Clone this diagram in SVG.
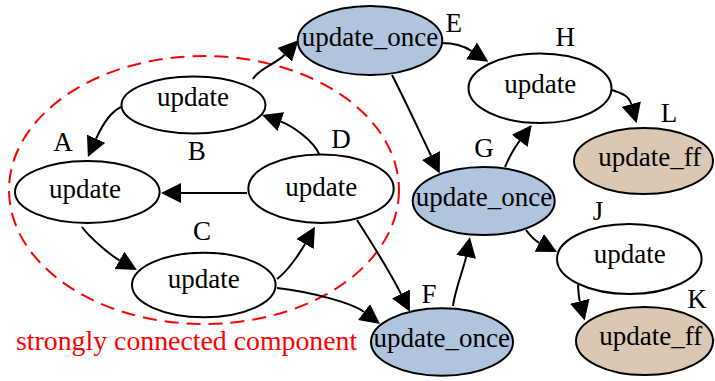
<svg xmlns="http://www.w3.org/2000/svg" width="715" height="381" viewBox="0 0 715 381">
<defs>
<style>
.n ellipse{stroke:#000;stroke-width:2;fill:#fff}
.n.once ellipse{fill:#b0c4de}
.n.ff ellipse{fill:#dbc8b4}
text{font-family:"Liberation Serif","Times New Roman",serif;font-size:27px;fill:#000}
.t{text-anchor:middle}
.e path{fill:none;stroke:#000;stroke-width:2;marker-end:url(#ah)}
.scc{fill:none;stroke:#f00;stroke-width:2;stroke-dasharray:14,8}
.scct{fill:#f00;font-size:27.8px}
</style>
<marker id="ah" viewBox="0 0 20 20" refX="0" refY="10" markerWidth="20" markerHeight="20" markerUnits="userSpaceOnUse" orient="auto">
<path d="M0,0 L20,10 L0,20 z" fill="#000"/>
</marker>
</defs>
<rect width="715" height="381" fill="#fff"/>
<ellipse class="scc" cx="204" cy="190" rx="195" ry="134"/>
<text class="scct" x="16" y="350">strongly connected component</text>
<g id="edges" class="e">
<path d="M121,107 C108,113 100.2,129.6 96.1,138.7"/>
<path d="M247,193 L181,193"/>
<path d="M320,156 C314,140 290.3,124.9 280.9,121.6"/>
<path d="M253,79 C258,69 276,64 284.7,54.8"/>
<path d="M277,279 C288,271 300,252.7 305,244"/>
<path d="M82,227 C90,238 110.8,255.4 119.5,260.3"/>
<path d="M277,288 C312,292 352,303 364,312"/>
<path d="M357,220 C375,248 392,276 401,293.9"/>
<path d="M453,306 C455,290 464.2,266.7 466.1,256.9"/>
<path d="M392,75 C405,100 421,135 431,155.5"/>
<path d="M442,43 C451,43 463.1,45.5 471.5,50.9"/>
<path d="M505,167 C508,160 513.5,148.9 519.6,140.9"/>
<path d="M612,90 C620,93 628.5,94.5 631.2,104.1"/>
<path d="M526,230 C530,235 533,239.5 539.3,242.8"/>
<path d="M578,285 C578.5,292 578.5,296 579.8,301.2"/>
</g>
<g id="A" class="n"><ellipse cx="87.3" cy="192" rx="72.3" ry="31"/><text class="t" x="85" y="198">update</text><text class="t" x="63" y="150.7">A</text></g>
<g id="B" class="n"><ellipse cx="193.5" cy="105" rx="72" ry="28.5"/><text class="t" x="193" y="105.7">update</text><text class="t" x="196.7" y="160">B</text></g>
<g id="C" class="n"><ellipse cx="203.8" cy="285" rx="71.8" ry="32.3"/><text class="t" x="203.8" y="288.3">update</text><text class="t" x="202" y="240">C</text></g>
<g id="D" class="n"><ellipse cx="321" cy="188.7" rx="72.7" ry="34.3"/><text class="t" x="321.3" y="195.7">update</text><text class="t" x="341" y="148.3">D</text></g>
<g id="E" class="n once"><ellipse cx="370" cy="40.5" rx="72.3" ry="34.5"/><text class="t" x="370" y="45.7">update_once</text><text class="t" x="453.7" y="31.7">E</text></g>
<g id="F" class="n once"><ellipse cx="442" cy="342" rx="71" ry="33.7"/><text class="t" x="441.7" y="346.7">update_once</text><text class="t" x="429" y="302.7">F</text></g>
<g id="G" class="n once"><ellipse cx="483.7" cy="201" rx="71" ry="34"/><text class="t" x="484" y="206">update_once</text><text class="t" x="484" y="156.7">G</text></g>
<g id="H" class="n"><ellipse cx="540" cy="88.3" rx="71.5" ry="34.7"/><text class="t" x="540.3" y="93.3">update</text><text class="t" x="565.3" y="46">H</text></g>
<g id="J" class="n"><ellipse cx="629.3" cy="259" rx="72.3" ry="35"/><text class="t" x="629.7" y="263.3">update</text><text class="t" x="598" y="220">J</text></g>
<g id="K" class="n ff"><ellipse cx="644.5" cy="341" rx="68.5" ry="34"/><text class="t" x="650.8" y="345">update_ff</text><text class="t" x="697" y="308.3">K</text></g>
<g id="L" class="n ff"><ellipse cx="643.5" cy="161" rx="69.5" ry="33"/><text class="t" x="649.7" y="166">update_ff</text><text class="t" x="669" y="121.7">L</text></g>
</svg>
